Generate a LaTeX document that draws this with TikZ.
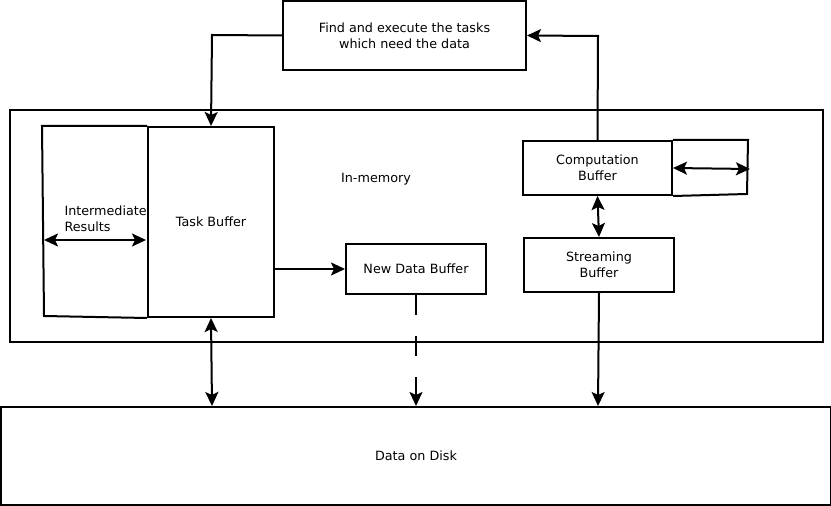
\documentclass[tikz,border=0pt]{standalone}
\usepackage{fontspec}
\setmainfont{DejaVu Sans}
\usetikzlibrary{arrows.meta}
\begin{document}
\begin{tikzpicture}[x=1bp,y=-1bp,
  every node/.style={font=\fontsize{12.8}{16.5}\selectfont},
  box/.style={draw, line width=2bp, inner sep=0pt, align=center},
  ln/.style={line width=2bp},
  tip/.style={-{Stealth[length=14bp,width=13bp,inset=3bp]}},
  dtip/.style={{Stealth[length=14bp,width=13bp,inset=3bp]}-{Stealth[length=14bp,width=13bp,inset=3bp]}}]
\useasboundingbox (0,0) rectangle (831,506);
% boxes
\node[box, minimum width=243bp, minimum height=69bp] (find) at (404.5,35.5) {Find and execute the tasks\\which need the data};
\node[box, minimum width=813bp, minimum height=232bp] (mem) at (416.5,226) {};
\node (memlbl) at (376,179) {In-memory};
\node[box, minimum width=126bp, minimum height=190bp] (task) at (211,222) {Task Buffer};
\draw[ln] (task.north west) -- (42,126) -- (44,316) -- (task.south west);
\node[anchor=west, align=left] (inter) at (61,219) {Intermediate\\Results};
\coordinate (irl) at (44,240);
\coordinate (irr) at (146,240);
\draw[ln, dtip] (irl) -- (irr);
\node[box, minimum width=140bp, minimum height=50bp] (new) at (416,269) {New Data Buffer};
\node[box, minimum width=149bp, minimum height=54bp] (comp) at (597.5,168) {Computation\\Buffer};
\draw[ln] (comp.north east) -- (748,140) -- (747,194) -- (comp.south east);
\coordinate (cr) at (750,169);
\draw[ln, dtip] (comp.east) -- (cr);
\node[box, minimum width=150bp, minimum height=54bp] (stream) at (599,265) {Streaming\\Buffer};
\node[box, minimum width=830bp, minimum height=98bp] (disk) at (416,456) {Data on Disk};
\coordinate (dsk1) at (598,406);
\coordinate (dsk2) at (212,406);
\coordinate (tbl) at (274,269);
\coordinate (fl) at (212,35);
\coordinate (cu) at (598,36);
% connectors
\draw[ln, tip] (find.west) -- (fl) -- (task.north);
\draw[ln, tip] (comp.north) -- (cu) -- (find.east);
\draw[ln, tip] (tbl) -- (new.west);
\draw[ln, tip, dash pattern=on 20bp off 21bp] (new.south) -- (new.south |- disk.north);
\draw[ln, dtip] (comp.south) -- (stream.north);
\draw[ln, tip] (stream.south) -- (dsk1);
\draw[ln, dtip] (task.south) -- (dsk2);
\end{tikzpicture}
\end{document}
